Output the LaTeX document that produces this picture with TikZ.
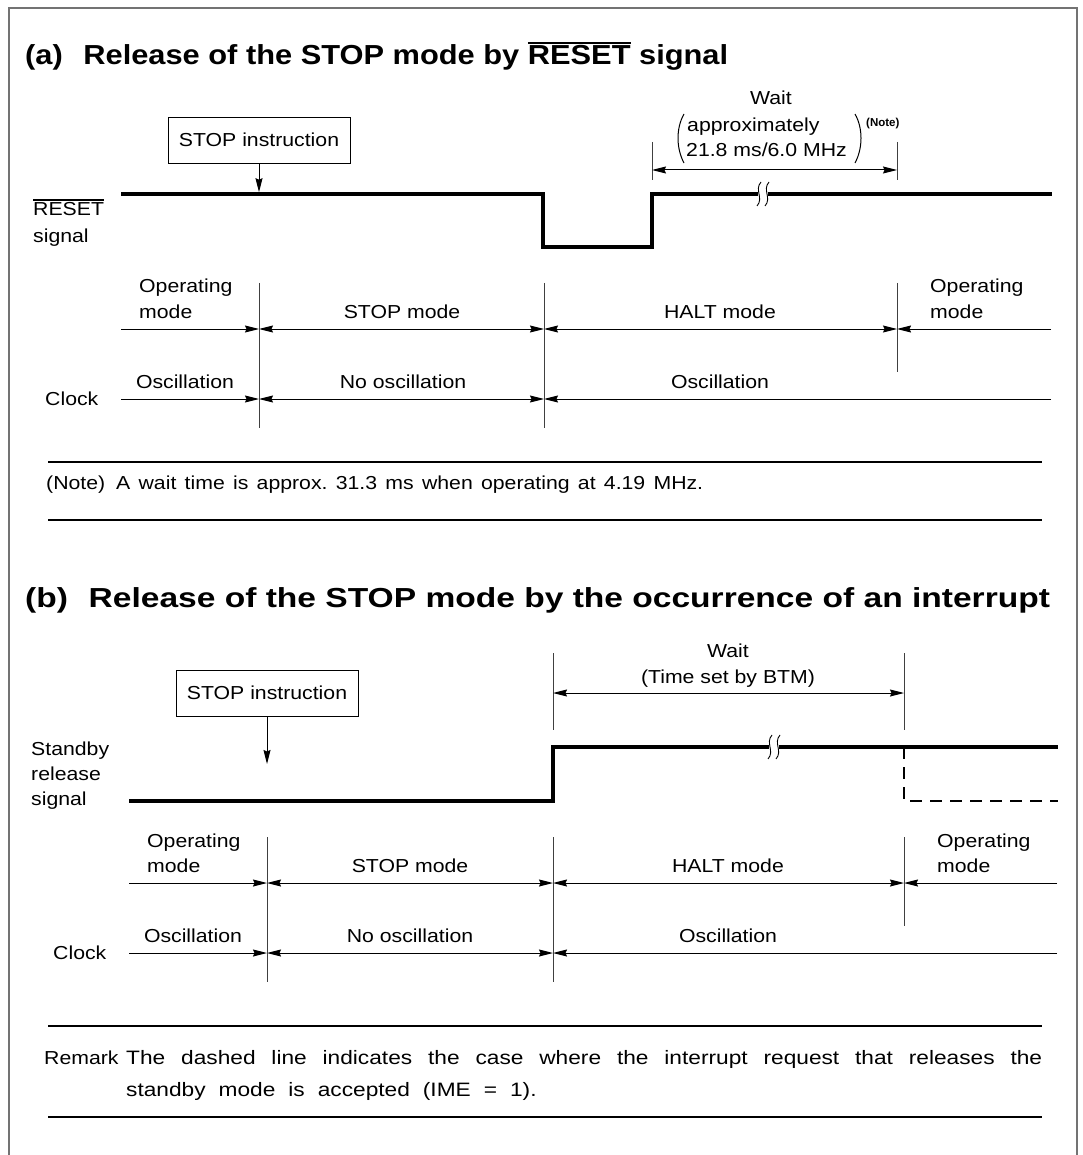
\documentclass[tikz,border=0pt]{standalone}
\usepackage{fontspec}
\setmainfont{Liberation Sans}[FakeStretch=1.13]
\newfontfamily\rmkfont{Liberation Sans}[FakeStretch=1.17]
\newfontfamily\ttlfont{Liberation Sans Bold}[FakeStretch=1.12]
\newfontfamily\ttlbfont{Liberation Sans Bold}[FakeStretch=1.22]
\newfontfamily\notefont{Liberation Sans Bold}
\usetikzlibrary{arrows.meta}
\newcommand\ovl[2][1.2pt]{\vbox{\hrule height #1\kern 2.2pt\hbox{#2}}}
\newcommand\bodyfs{\fontsize{18.8}{24}\selectfont}
\newcommand\rmkfs{\rmkfont\fontsize{19.4}{26}\selectfont}
\newcommand\ttlfs{\ttlfont\fontsize{27.5}{32}\selectfont}
\newcommand\ttlbfs{\ttlbfont\fontsize{27.5}{32}\selectfont}
\frenchspacing
\begin{document}
\begin{tikzpicture}[x=1pt,y=-1pt,
  >={Stealth[length=14pt,width=7pt,inset=1.5pt]},
  txt/.style={inner sep=0pt,font=\bodyfs},
  ttl/.style={inner sep=0pt,anchor=base west},
  thin/.style={line width=1pt},
  vline/.style={line width=0.9pt,black!75},
  sig/.style={line width=3.6pt,line join=miter,line cap=butt},
  sep/.style={line width=1.5pt},
  frm/.style={line width=2pt,black!55},
  brk/.style={line width=0.9pt},
  gap/.style={fill=white,draw=none},
  stopbox/.style={draw,line width=0.9pt,inner sep=0pt,minimum width=182pt,minimum height=46pt,font=\bodyfs}]
\useasboundingbox (0,0) rectangle (1082,1155);
\fill[white] (0,0) rectangle (1082,1155);
\draw[frm] (9,1155) -- (9,8) -- (1077,8) -- (1077,1155);

% ---------------- (a) ----------------
\node[ttl,font=\ttlfs] (ta) at (25,65) {(a)\hspace{0.75em}Release of the STOP mode by \ovl[2pt]{RESET} signal};
\node[stopbox] (stopa) at (259,140) {STOP instruction};

\coordinate (a0) at (121,194);
\coordinate (a1) at (543,194);
\coordinate (a2) at (543,247);
\coordinate (a3) at (652,247);
\coordinate (a4) at (652,194);
\coordinate (a5) at (1052,194);
\draw[sig] (a0) -- (a1) -- (a2) -- (a3) -- (a4) -- (a5);
\draw[thin,->,shorten >=1.8pt] (stopa.south) -- (stopa.south |- a0);
% break
\fill[gap] (758,191) rectangle (768,197);
\draw[brk] (761,182) .. controls (754,190) and (764,198) .. (757,206);
\draw[brk] (769,182) .. controls (762,190) and (772,198) .. (765,206);

% wait bracket (a)
\coordinate (wa1) at (652,170);
\coordinate (wa2) at (897,170);
\draw[vline] (652,142) -- (652,180);
\draw[vline] (897,142) -- (897,180);
\draw[thin,<->] (wa1) -- (wa2);
\node[txt,anchor=base] (waita) at (771,105) {Wait};
\node[txt,anchor=base west] (apx) at (687,132) {approximately};
\node[txt,anchor=base west] (frq) at (686,157) {21.8 ms/6.0 MHz};
\draw[thin] (684,114) .. controls (676,128) and (676,148) .. (684,163);
\draw[thin] (855,114) .. controls (863,128) and (863,148) .. (855,163);
\node[inner sep=0pt,font=\notefont\fontsize{11.5}{13}\selectfont,anchor=base west] (nref) at (866,127) {(Note)};

\node[txt,anchor=base west] (rs1) at (33,216) {\ovl{RESET}};
\node[txt,anchor=base west] (rs2) at (33,243) {signal};

% mode row (a)
\coordinate (m0) at (121,329);
\coordinate (m1) at (259,329);
\coordinate (m2) at (544,329);
\coordinate (m3) at (897,329);
\coordinate (m4) at (1051,329);
\draw[thin,->] (m0) -- (m1);
\draw[thin,<->] (m1) -- (m2);
\draw[thin,<->] (m2) -- (m3);
\draw[thin,->] (m4) -- (m3);
% clock row (a)
\coordinate (c0) at (121,399);
\coordinate (c1) at (259,399);
\coordinate (c2) at (544,399);
\coordinate (c4) at (1051,399);
\draw[thin,->] (c0) -- (c1);
\draw[thin,<->] (c1) -- (c2);
\draw[thin,->] (c4) -- (c2);
\draw[vline] (259,283) -- (259,428);
\draw[vline] (544,283) -- (544,428);
\draw[vline] (897,283) -- (897,372);

\node[txt,anchor=base west] (opa1) at (139,293) {Operating};
\node[txt,anchor=base west] (opa2) at (139,318) {mode};
\node[txt,anchor=base] (stma) at (402,318) {STOP mode};
\node[txt,anchor=base] (hlta) at (720,318) {HALT mode};
\node[txt,anchor=base west] (opa3) at (930,293) {Operating};
\node[txt,anchor=base west] (opa4) at (930,318) {mode};
\node[txt,anchor=base] (osa1) at (185,388) {Oscillation};
\node[txt,anchor=base] (nosa) at (403,388) {No oscillation};
\node[txt,anchor=base] (osa2) at (720,388) {Oscillation};
\node[txt,anchor=base west] (clka) at (45,405) {Clock};

% note
\draw[sep] (48,462) -- (1042,462);
\draw[sep] (48,520) -- (1042,520);
\node[txt,anchor=base west] (notel) at (46,489) {(Note)};
\node[txt,anchor=base west] (notet) at (116,489) {\makebox[587pt][s]{A wait time is approx. 31.3 ms when operating at 4.19 MHz.}};

% ---------------- (b) ----------------
\node[ttl,font=\ttlbfs] (tb) at (25,607) {(b)\hspace{0.75em}Release of the STOP mode by the occurrence of an interrupt};
\node[stopbox] (stopb) at (267,693) {STOP instruction};
\coordinate (sb) at (267,764);
\draw[thin,->] (stopb.south) -- (sb);

\coordinate (b0) at (129,801);
\coordinate (b1) at (553,801);
\coordinate (b2) at (553,747);
\coordinate (b3) at (1058,747);
\draw[sig] (b0) -- (b1) -- (b2) -- (b3);
\coordinate (e0) at (904,747);
\coordinate (e1) at (904,801);
\coordinate (e2) at (1058,801);
\draw[line width=2.2pt,dash pattern=on 12pt off 8pt] (e0) -- (e1) -- (e2);
\fill[gap] (769,744) rectangle (779,750);
\draw[brk] (772,735) .. controls (765,743) and (775,751) .. (768,759);
\draw[brk] (780,735) .. controls (773,743) and (783,751) .. (776,759);

\coordinate (wb1) at (553,693);
\coordinate (wb2) at (904,693);
\draw[vline] (553,653) -- (553,730);
\draw[vline] (904,653) -- (904,730);
\draw[thin,<->] (wb1) -- (wb2);
\node[txt,anchor=base] (waitb) at (728,657) {Wait};
\node[txt,anchor=base] (btm) at (728,683) {(Time set by BTM)};

\node[txt,anchor=base west] (sr1) at (31,755) {Standby};
\node[txt,anchor=base west] (sr2) at (31,780) {release};
\node[txt,anchor=base west] (sr3) at (31,805) {signal};

\coordinate (n0) at (129,883);
\coordinate (n1) at (267,883);
\coordinate (n2) at (553,883);
\coordinate (n3) at (904,883);
\coordinate (n4) at (1057,883);
\draw[thin,->] (n0) -- (n1);
\draw[thin,<->] (n1) -- (n2);
\draw[thin,<->] (n2) -- (n3);
\draw[thin,->] (n4) -- (n3);
\coordinate (d0) at (129,953);
\coordinate (d1) at (267,953);
\coordinate (d2) at (553,953);
\coordinate (d4) at (1057,953);
\draw[thin,->] (d0) -- (d1);
\draw[thin,<->] (d1) -- (d2);
\draw[thin,->] (d4) -- (d2);
\draw[vline] (267,837) -- (267,982);
\draw[vline] (553,837) -- (553,982);
\draw[vline] (904,837) -- (904,926);

\node[txt,anchor=base west] (opb1) at (147,847) {Operating};
\node[txt,anchor=base west] (opb2) at (147,872) {mode};
\node[txt,anchor=base] (stmb) at (410,872) {STOP mode};
\node[txt,anchor=base] (hltb) at (728,872) {HALT mode};
\node[txt,anchor=base west] (opb3) at (937,847) {Operating};
\node[txt,anchor=base west] (opb4) at (937,872) {mode};
\node[txt,anchor=base] (osb1) at (193,942) {Oscillation};
\node[txt,anchor=base] (nosb) at (410,942) {No oscillation};
\node[txt,anchor=base] (osb2) at (728,942) {Oscillation};
\node[txt,anchor=base west] (clkb) at (53,959) {Clock};

% remark
\draw[sep] (48,1026) -- (1042,1026);
\draw[sep] (48,1117) -- (1042,1117);
\node[txt,anchor=base west] (rml) at (44,1064) {Remark};
\node[inner sep=0pt,font=\rmkfs,anchor=base west] (rm1) at (126,1064) {\makebox[916pt][s]{The dashed line indicates the case where the interrupt request that releases the}};
\node[inner sep=0pt,font=\rmkfs,anchor=base west] (rm2) at (126,1096) {\spaceskip=13pt\relax standby mode is accepted (IME = 1).};
\end{tikzpicture}
\end{document}
